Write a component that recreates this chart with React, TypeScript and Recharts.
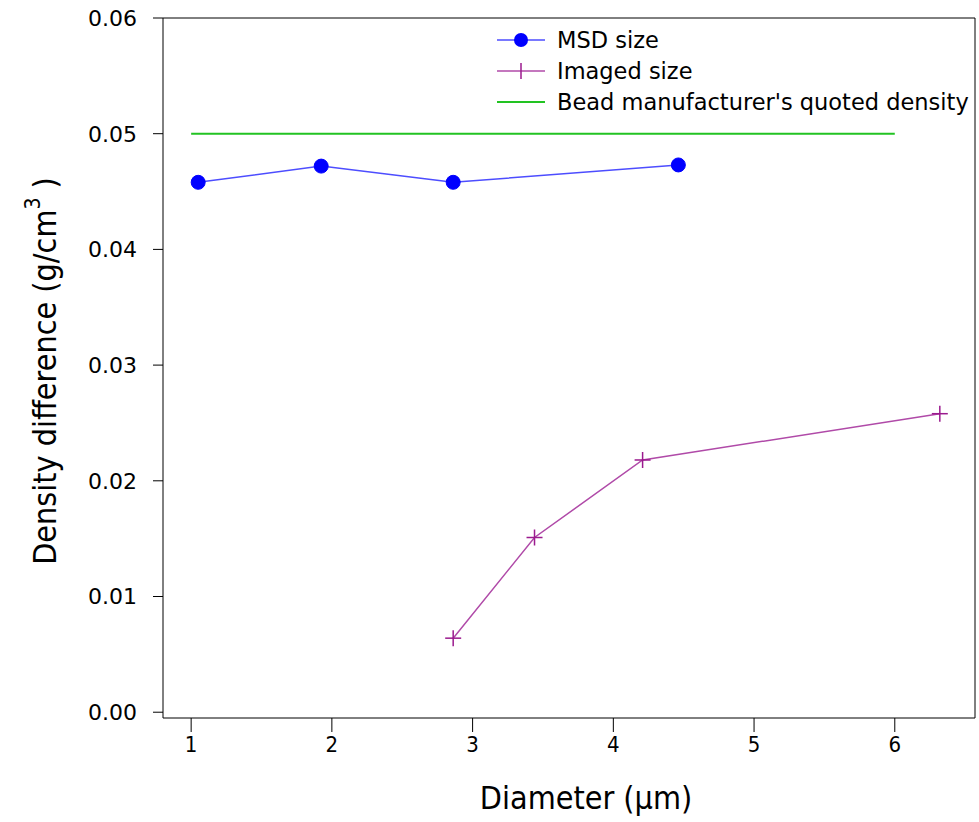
import React from "react";
import {
  LineChart,
  Line,
  XAxis,
  YAxis,
} from "recharts";

// MSD-derived diameters vs density difference
const msdDiameter = [1.05, 1.924, 2.862, 4.462];
const msdDensity = [0.0458, 0.0472, 0.0458, 0.0473];

// imaged diameters vs density difference
const imagedDiameter = [2.862, 3.44, 4.208, 6.32];
const imagedDensity = [0.0064, 0.0151, 0.0218, 0.0258];

// manufacturer's quoted value, drawn across 1..6 um
const quotedDiameter = [1, 6];
const quotedDensity = [0.05, 0.05];

const xTicks = [1, 2, 3, 4, 5, 6];
const yTicks = [0, 0.01, 0.02, 0.03, 0.04, 0.05, 0.06];

const msdData = msdDiameter.map((x, i) => ({ x, y: msdDensity[i] }));
const imagedData = imagedDiameter.map((x, i) => ({ x, y: imagedDensity[i] }));
const quotedData = quotedDiameter.map((x, i) => ({ x, y: quotedDensity[i] }));

const BLUE = "#0000ff";
const BLUE_LINE = "#4d4dff";
const PURPLE = "#9b1a8e";
const PURPLE_LINE = "#b04aa8";
const GREEN = "#22c322";

const condensed = "'DejaVu Sans Condensed', 'DejaVu Sans', sans-serif";

const Plus = (props: any) => {
  const { cx, cy } = props;
  if (cx == null || cy == null) return null;
  return (
    <g stroke={PURPLE} strokeWidth={1.5}>
      <line x1={cx - 8} y1={cy} x2={cx + 8} y2={cy} />
      <line x1={cx} y1={cy - 8} x2={cx} y2={cy + 8} />
    </g>
  );
};

const YLabel = (props: any) => {
  const vb = props.viewBox || {};
  const cy = (vb.y ?? 18) + (vb.height ?? 700) / 2 + 3;
  return (
    <text
      x={0}
      y={0}
      transform={`translate(56, ${cy}) rotate(-90)`}
      textAnchor="middle"
      fontFamily={condensed}
      fontSize={32}
      fill="#000"
    >
      Density difference (g/cm
      <tspan fontSize={21} dy={-16}>
        3
      </tspan>
      <tspan dy={16}> )</tspan>
    </text>
  );
};

const XLabel = (props: any) => {
  const vb = props.viewBox || {};
  const cx = (vb.x ?? 163) + (vb.width ?? 812) / 2 + 17;
  return (
    <text x={cx} y={809} textAnchor="middle" fontFamily={condensed} fontSize={32} fill="#000">
      {"Diameter (\u00b5m)"}
    </text>
  );
};

const legendFont = "'DejaVu Sans', sans-serif";

export default function App() {
  return (
    <div style={{ position: "absolute", left: 0, top: 0, width: 979, height: 822, background: "#fff" }}>
      <LineChart
        width={979}
        height={822}
        margin={{ top: 17, right: 3, left: 0, bottom: 0 }}
      >
        <XAxis
          xAxisId="b"
          type="number"
          dataKey="x"
          domain={[0.8, 6.57]}
          ticks={xTicks}
          allowDataOverflow
          height={104}
          tickSize={14}
          tickMargin={4}
          stroke="#000"
          tick={{ fill: "#000", fontSize: 22, fontFamily: "'Liberation Sans Narrow', 'DejaVu Sans Condensed', sans-serif" }}
          label={<XLabel />}
        />
        <XAxis
          xAxisId="t"
          orientation="top"
          type="number"
          domain={[0.8, 6.57]}
          height={1}
          tick={false}
          tickLine={false}
          stroke="#000"
        />
        <YAxis
          yAxisId="l"
          type="number"
          domain={[-0.0005, 0.06]}
          ticks={yTicks}
          allowDataOverflow
          width={163}
          tickSize={10}
          tickMargin={16}
          stroke="#000"
          tickFormatter={(v: number) => v.toFixed(2)}
          tick={{ fill: "#000", fontSize: 22, fontFamily: "'DejaVu Sans', sans-serif" }}
          label={<YLabel />}
        />
        <YAxis
          yAxisId="r"
          orientation="right"
          type="number"
          domain={[-0.0005, 0.06]}
          width={1}
          tick={false}
          tickLine={false}
          stroke="#000"
        />
        <Line
          xAxisId="b"
          yAxisId="l"
          data={quotedData}
          dataKey="y"
          type="linear"
          stroke={GREEN}
          strokeWidth={2}
          dot={false}
          activeDot={false}
          isAnimationActive={false}
        />
        <Line
          xAxisId="b"
          yAxisId="l"
          data={msdData}
          dataKey="y"
          type="linear"
          stroke={BLUE_LINE}
          strokeWidth={1.5}
          dot={{ r: 7, fill: BLUE, stroke: BLUE, strokeWidth: 1 }}
          activeDot={false}
          isAnimationActive={false}
        />
        <Line
          xAxisId="b"
          yAxisId="l"
          data={imagedData}
          dataKey="y"
          type="linear"
          stroke={PURPLE_LINE}
          strokeWidth={1.5}
          dot={<Plus />}
          activeDot={false}
          isAnimationActive={false}
        />
      </LineChart>
      <svg
        width={489}
        height={120}
        style={{ position: "absolute", left: 490, top: 20 }}
      >
        <g fontFamily={legendFont} fontSize={22.5} fill="#000">
          <line x1={7} y1={20} x2={55} y2={20} stroke={BLUE_LINE} strokeWidth={1.5} />
          <circle cx={31} cy={20} r={7} fill={BLUE} />
          <text x={67} y={28}>MSD size</text>
          <line x1={7} y1={51} x2={55} y2={51} stroke={PURPLE_LINE} strokeWidth={1.5} />
          <line x1={31} y1={43} x2={31} y2={59} stroke={PURPLE} strokeWidth={1.5} />
          <text x={67} y={59}>Imaged size</text>
          <line x1={7} y1={82} x2={55} y2={82} stroke={GREEN} strokeWidth={2} />
          <text x={67} y={90}>Bead manufacturer's quoted density</text>
        </g>
      </svg>
    </div>
  );
}
